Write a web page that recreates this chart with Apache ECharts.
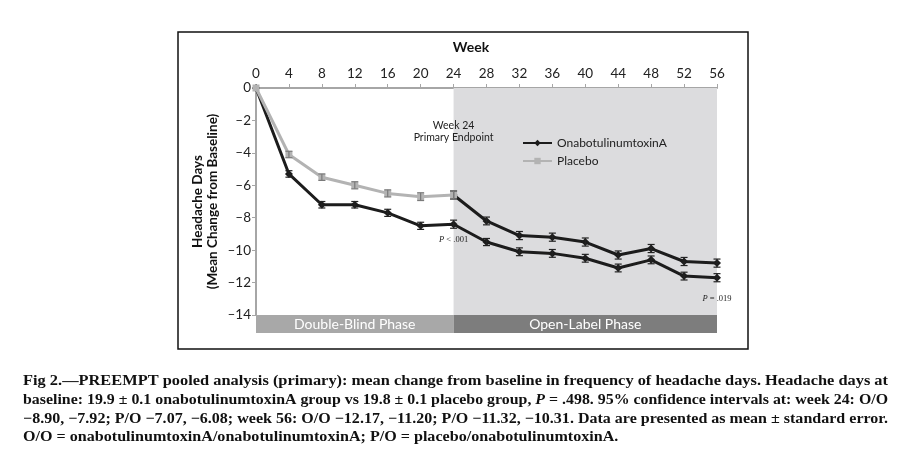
<!DOCTYPE html>
<html><head><meta charset="utf-8">
<script src="https://cdn.jsdelivr.net/npm/echarts@6/dist/echarts.min.js"></script>
<style>html,body{margin:0;padding:0;background:#fff}#c{width:914px;height:474px}</style>
</head><body><div id="c"></div>
<script>
// ---- data ----
const xTicks = [0,4,8,12,16,20,24,28,32,36,40,44,48,52,56];
const onaWeeks = [0,4,8,12,16,20,24,28,32,36,40,44,48,52,56];
const onaMean  = [0,-5.3,-7.2,-7.2,-7.7,-8.5,-8.4,-9.5,-10.1,-10.2,-10.5,-11.1,-10.6,-11.6,-11.7];
const onaSE    = [0,0.2,0.2,0.2,0.22,0.22,0.25,0.22,0.24,0.24,0.24,0.24,0.24,0.24,0.25];
const plaWeeks = [0,4,8,12,16,20,24];
const plaMean  = [0,-4.1,-5.5,-6.0,-6.5,-6.7,-6.6];
const plaSE    = [0,0.2,0.2,0.22,0.22,0.24,0.25];
const poWeeks  = [24,28,32,36,40,44,48,52,56];
const poMean   = [-6.6,-8.2,-9.1,-9.2,-9.5,-10.3,-9.9,-10.7,-10.8];
const poSE     = [0.25,0.24,0.25,0.25,0.25,0.25,0.25,0.25,0.25];
const phases = [{name:'Double-Blind Phase', from:0, to:24}, {name:'Open-Label Phase', from:24, to:56}];
const captionLines = [
 'Fig 2.—PREEMPT pooled analysis (primary): mean change from baseline in frequency of headache days. Headache days at',
 'baseline: 19.9 ± 0.1 onabotulinumtoxinA group vs 19.8 ± 0.1 placebo group, {i|P} = .498. 95% confidence intervals at: week 24: O/O',
 '−8.90, −7.92; P/O −7.07, −6.08; week 56: O/O −12.17, −11.20; P/O −11.32, −10.31. Data are presented as mean ± standard error.',
 'O/O = onabotulinumtoxinA/onabotulinumtoxinA; P/O = placebo/onabotulinumtoxinA.'
];

const zip = (xs, ys) => xs.map((x,i)=>[x, ys[i]]);
const zip3 = (xs, ys, es) => xs.map((x,i)=>[x, ys[i], es[i]]);
const FONT = 'Lato';
const DARK = '#1c1c1c', GRAY = '#b3b3b3';

function errSeries(data, color) {
  return {
    type:'custom', xAxisIndex:0, yAxisIndex:0, z:5, silent:true,
    renderItem: function(params, api) {
      const x = api.value(0), y = api.value(1), e = api.value(2);
      if (!e) return {type:'group', children:[]};
      const top = api.coord([x, y + e]), bot = api.coord([x, y - e]);
      const w = 3.5;
      const st = {stroke: color, lineWidth: 1.2};
      return {type:'group', children:[
        {type:'line', shape:{x1:top[0], y1:top[1], x2:bot[0], y2:bot[1]}, style:st},
        {type:'line', shape:{x1:top[0]-w, y1:top[1], x2:top[0]+w, y2:top[1]}, style:st},
        {type:'line', shape:{x1:bot[0]-w, y1:bot[1], x2:bot[0]+w, y2:bot[1]}, style:st}
      ]};
    },
    data: data
  };
}

const chart = echarts.init(document.getElementById('c'), null, {renderer:'canvas'});
const minus = v => v < 0 ? '\u2013' + Math.abs(v) : String(v);

const option = {
  animation:false,
  backgroundColor:'#fff',
  grid:[
    {left:256, top:88, width:461, height:227, containLabel:false},
    {left:256, top:315, width:461, height:18, containLabel:false}
  ],
  xAxis:[
    {type:'value', gridIndex:0, min:0, max:56, interval:4, position:'top',
     axisLine:{show:true, onZero:false, lineStyle:{color:'#a6a6a6', width:2}},
     axisTick:{show:true, length:4, lineStyle:{color:'#a6a6a6'}},
     axisLabel:{color:'#222', fontFamily:FONT, fontSize:13.5, margin:7},
     splitLine:{show:false}},
    {type:'value', gridIndex:1, min:0, max:56, show:false}
  ],
  yAxis:[
    {type:'value', gridIndex:0, min:-14, max:0, interval:2,
     axisLine:{show:true, lineStyle:{color:'#a6a6a6', width:2}},
     axisTick:{show:true, length:4, lineStyle:{color:'#a6a6a6'}},
     axisLabel:{color:'#222', fontFamily:FONT, fontSize:13.5, margin:5, formatter:minus},
     splitLine:{show:false},
     name:'Headache Days\n(Mean Change from Baseline)', nameLocation:'middle', nameRotate:90, nameGap:36,
     nameMoveOverlap:false,
     nameTextStyle:{color:'#111', fontFamily:FONT, fontWeight:'bold', fontSize:13.5, lineHeight:15}},
    {type:'value', gridIndex:1, min:0, max:1, show:false}
  ],
  legend:{
    data:['OnabotulinumtoxinA','Placebo'], orient:'vertical', left:517, top:132,
    itemWidth:29, itemHeight:8, itemGap:6,
    textStyle:{color:'#222', fontFamily:FONT, fontSize:12}
  },
  series:[
    {type:'line', xAxisIndex:1, yAxisIndex:1, data:[], silent:true,
     markArea:{silent:true, data: phases.map((p,i)=>[
       {xAxis:p.from, itemStyle:{color: i===0 ? '#a8a8a8' : '#7d7d7d'},
        label:{show:true, position:'inside', formatter:p.name, color:'#fff', fontFamily:FONT, fontSize:14}},
       {xAxis:p.to}])}},
    {name:'P/O', type:'line', data: zip(poWeeks, poMean), z:3,
     symbol:'diamond', symbolSize:8, showSymbol:true,
     itemStyle:{color:DARK}, lineStyle:{color:DARK, width:3},
     markArea:{silent:true, itemStyle:{color:'#dcdcde'}, data:[[{xAxis:24},{xAxis:56}]]}},
    {name:'OnabotulinumtoxinA', type:'line', data: zip(onaWeeks, onaMean), z:3,
     symbol:'diamond', symbolSize:8,
     itemStyle:{color:DARK}, lineStyle:{color:DARK, width:3},
     markPoint:{symbol:'circle', symbolSize:0, silent:true, data:[
       {coord:[24, -9.35], label:{show:true, formatter:'{i|P} < .001', color:'#222', fontFamily:'Liberation Serif', fontSize:8.5, rich:{i:{fontStyle:'italic', fontFamily:'Liberation Serif', fontSize:8.5, color:'#222'}}}},
       {coord:[56, -13.0], label:{show:true, formatter:'{i|P} = .019', color:'#222', fontFamily:'Liberation Serif', fontSize:8.5, rich:{i:{fontStyle:'italic', fontFamily:'Liberation Serif', fontSize:8.5, color:'#222'}}}},
       {coord:[24, -2.7], label:{show:true, formatter:'Week 24\nPrimary Endpoint', color:'#222', fontFamily:FONT, fontSize:10.5, lineHeight:12}}
     ]}},
    {name:'Placebo', type:'line', data: zip(plaWeeks, plaMean), z:4,
     symbol:'rect', symbolSize:7,
     itemStyle:{color:GRAY}, lineStyle:{color:GRAY, width:3}},
    errSeries(zip3(onaWeeks, onaMean, onaSE), '#222'),
    errSeries(zip3(poWeeks, poMean, poSE), '#222'),
    errSeries(zip3(plaWeeks, plaMean, plaSE), '#7a7a7a')
  ]
};
chart.setOption(option);

// caption + frame + "Week" label
const ctx = document.createElement('canvas').getContext('2d');
const capFont = 'bold 15px "Liberation Serif"';
ctx.font = capFont;
const plain = s => s.replace(/\{i\|([^}]*)\}/g, '$1');
const targetW = 865;
const scales = captionLines.map(s => targetW / ctx.measureText(plain(s)).width);
const lastScale = (scales[0] + scales[1] + scales[2]) / 3;
const capY = [381, 400, 419, 437.5];
const graphics = [
  {type:'rect', shape:{x:178, y:32, width:570, height:317}, style:{fill:'none', stroke:'#111', lineWidth:1.5}, z:100},
  {type:'text', x:471, y:47, style:{text:'Week', font:'bold 14px Lato', fill:'#111', textAlign:'center', textVerticalAlign:'middle'}, z:100}
];
captionLines.forEach((s, i) => {
  graphics.push({type:'text', x:23, y:capY[i], scaleX: i < 3 ? scales[i] : lastScale, scaleY:1,
    style:{text:s, font:capFont, fill:'#111', textAlign:'left', textVerticalAlign:'middle',
      rich:{i:{fontStyle:'italic', fontWeight:'bold', fontFamily:'Liberation Serif', fontSize:15, fill:'#111'}}}, z:100});
});
chart.setOption({graphic:graphics});
</script>
</body></html>
